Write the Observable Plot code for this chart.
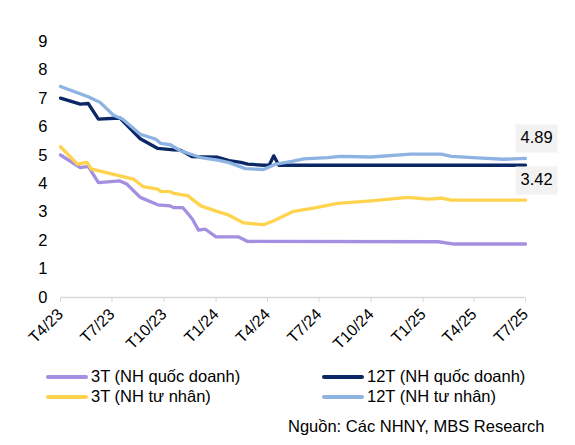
<!DOCTYPE html>
<html>
<head>
    <meta charset="UTF-8">
    <title>Lãi suất huy động 3T và 12T</title>
    <script src="https://cdn.jsdelivr.net/npm/d3@7"></script>
    <script src="https://cdn.jsdelivr.net/npm/@observablehq/plot@0.6"></script>
    <style>
        body { margin: 0; background: #fff; font-family: "Liberation Sans", Arial, sans-serif; }
        #wrap { position: relative; width: 575px; height: 445px; }
        #chart { position: absolute; left: 0; top: 0; }
        .leg { position: absolute; font-size: 16.5px; line-height: 20px; color: #000; white-space: nowrap; }
        .leg i { display: inline-block; width: 42px; height: 4px; border-radius: 2px; vertical-align: middle; margin-right: 3px; position: relative; top: -1px; }
        #src { position: absolute; left: 288px; top: 417px; font-size: 16.5px; white-space: nowrap; }
        g[aria-label="tip"] path { filter: none !important; }
    </style>
</head>
<body>
<div id="wrap">
    <div id="chart"></div>
    <div id="legend"></div>
    <div id="src">Nguồn: Các NHNY, MBS Research</div>
</div>
<script>
// tên chuỗi và màu
const seriesNames = ["3T (NH quốc doanh)", "12T (NH quốc doanh)", "3T (NH tư nhân)", "12T (NH tư nhân)"];
const seriesColors = ["#a48fe0", "#0c2765", "#ffd34e", "#8db3e2"];

// 3T (NH quốc doanh)
const dates3Tqd = ["2023-04-01","2023-05-06","2023-05-20","2023-06-07","2023-07-15","2023-07-27","2023-08-20","2023-09-20","2023-10-12","2023-10-18","2023-11-03","2023-11-08","2023-11-20","2023-12-01","2023-12-13","2024-01-01","2024-02-10","2024-02-26","2025-01-28","2025-02-25","2025-07-01"];
const values3Tqd = [5.01,4.57,4.61,4.04,4.10,3.99,3.52,3.26,3.22,3.16,3.16,3.05,2.76,2.37,2.40,2.13,2.13,1.97,1.96,1.88,1.88];

// 12T (NH quốc doanh)
const dates12Tqd = ["2023-04-01","2023-05-06","2023-05-20","2023-06-07","2023-07-15","2023-08-20","2023-09-20","2023-10-18","2023-10-30","2023-11-20","2024-01-04","2024-01-24","2024-02-14","2024-02-26","2024-03-25","2024-04-04","2024-04-12","2024-04-21","2025-07-01"];
const values12Tqd = [7.01,6.80,6.82,6.27,6.31,5.58,5.24,5.19,5.18,4.95,4.93,4.81,4.75,4.69,4.65,4.66,4.98,4.65,4.65];

// 3T (NH tư nhân)
const dates3Ttn = ["2023-04-01","2023-05-01","2023-05-18","2023-05-26","2023-08-08","2023-08-25","2023-09-20","2023-09-25","2023-10-12","2023-10-18","2023-11-12","2023-12-05","2024-01-04","2024-01-22","2024-02-19","2024-03-25","2024-04-12","2024-05-17","2024-06-21","2024-08-03","2024-10-01","2024-12-05","2025-01-10","2025-02-02","2025-02-20","2025-07-01"];
const values3Ttn = [5.30,4.69,4.75,4.51,4.16,3.90,3.81,3.73,3.72,3.66,3.58,3.22,3.02,2.91,2.62,2.56,2.70,3.03,3.14,3.31,3.40,3.52,3.46,3.49,3.42,3.42];

// 12T (NH tư nhân)
const dates12Ttn = ["2023-04-01","2023-05-20","2023-06-10","2023-07-03","2023-07-20","2023-08-20","2023-09-16","2023-09-25","2023-10-12","2023-10-30","2023-12-05","2024-01-04","2024-01-24","2024-02-22","2024-03-25","2024-04-16","2024-05-12","2024-06-04","2024-07-16","2024-08-08","2024-10-01","2024-12-10","2025-02-02","2025-02-20","2025-04-07","2025-05-23","2025-07-01"];
const values12Ttn = [7.42,7.06,6.86,6.42,6.27,5.74,5.57,5.42,5.37,5.16,4.92,4.83,4.74,4.53,4.50,4.69,4.78,4.87,4.92,4.96,4.94,5.04,5.04,4.96,4.91,4.86,4.89];

// trục
const tickDates = ["2023-04-01","2023-07-01","2023-10-01","2024-01-01","2024-04-01","2024-07-01","2024-10-01","2025-01-01","2025-04-01","2025-07-01"];
const tickLabels = ["T4/23","T7/23","T10/23","T1/24","T4/24","T7/24","T10/24","T1/25","T4/25","T7/25"];
const yTicks = [0,1,2,3,4,5,6,7,8,9];

// nhãn giá trị cuối kỳ
const endLabelDate = "2025-07-01";
const endLabelValues = [4.89, 3.42];

const allDates = [dates3Tqd, dates12Tqd, dates3Ttn, dates12Ttn];
const allValues = [values3Tqd, values12Tqd, values3Ttn, values12Ttn];

const rows = [];
seriesNames.forEach((name, i) => {
    allDates[i].forEach((d, j) => {
        rows.push({ series: name, date: new Date(d), value: allValues[i][j] });
    });
});

const labels = endLabelValues.map(v => ({ date: new Date(endLabelDate), value: v, text: v.toFixed(2) }));

const plot = Plot.plot({
    width: 575,
    height: 355,
    marginTop: 41,
    marginBottom: 58,
    marginLeft: 60,
    marginRight: 50,
    style: { fontFamily: "Liberation Sans, Arial, sans-serif", background: "#fff", color: "#000" },
    x: { type: "utc", domain: [new Date(tickDates[0]), new Date(tickDates[tickDates.length - 1])] },
    y: { domain: [0, 9] },
    color: { domain: seriesNames, range: seriesColors },
    marks: [
        Plot.ruleY([0], { stroke: "#d9d9d9", strokeWidth: 1.3 }),
        Plot.axisX(tickDates.map(d => new Date(d)), {
            tickFormat: (d, i) => tickLabels[i],
            tickRotate: -45,
            tickSize: 5,
            tickPadding: 9,
            stroke: "#d9d9d9",
            fill: "#000",
            fontSize: 16,
            label: null
        }),
        Plot.axisY(yTicks, {
            tickSize: 0,
            tickPadding: 13,
            fontSize: 16.5,
            fill: "#000",
            label: null
        }),
        Plot.line(rows, {
            x: "date",
            y: "value",
            z: "series",
            stroke: "series",
            strokeWidth: 3.3,
            strokeLinejoin: "round",
            strokeLinecap: "round"
        }),
        Plot.tip(labels, {
            x: "date",
            y: "value",
            title: "text",
            anchor: "bottom",
            pointerSize: 0,
            fill: "#f2f2f2",
            stroke: "none",
            fontSize: 16.5,
            textPadding: 5,
            dx: 11,
            dy: -6
        })
    ]
});

document.querySelector("#chart").append(plot);

// chú thích
const legendPos = [
    { left: 46, top: 366 },
    { left: 322, top: 366 },
    { left: 46, top: 386 },
    { left: 322, top: 386 }
];
const legend = document.querySelector("#legend");
seriesNames.forEach((name, i) => {
    const el = document.createElement("div");
    el.className = "leg";
    el.style.left = legendPos[i].left + "px";
    el.style.top = legendPos[i].top + "px";
    el.innerHTML = `<i style="background:${seriesColors[i]}"></i>${name}`;
    legend.append(el);
});
</script>
</body>
</html>
